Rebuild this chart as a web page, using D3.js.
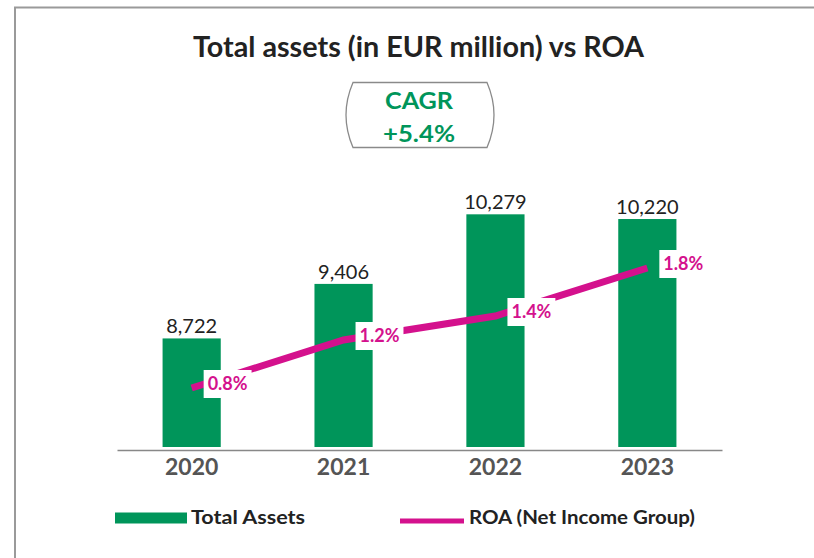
<!DOCTYPE html>
<html>
<head>
<meta charset="utf-8">
<script src="https://cdn.jsdelivr.net/npm/d3@7"></script>
<style>
  html, body { margin: 0; padding: 0; background: #fff; }
  svg { display: block; font-family: Lato, "Open Sans", sans-serif; }
</style>
</head>
<body>
<svg id="chart" width="814" height="558"></svg>
<script>
const years = ["2020", "2021", "2022", "2023"];
const totalAssets = [8722, 9406, 10279, 10220];
const roa = [0.8, 1.2, 1.4, 1.8];
const titleText = "Total assets (in EUR million) vs ROA";
const cagrLines = ["CAGR", "+5.4%"];
const legendLabels = ["Total Assets", "ROA (Net Income Group)"];

const GREEN = "#00955a";
const MAGENTA = "#d4118d";

const svg = d3.select("#chart");

// frame
svg.append("path")
  .attr("d", "M15,558 L15,7.5 L814,7.5")
  .attr("fill", "none").attr("stroke", "#9a9a9a").attr("stroke-width", 2);

// title
svg.append("text")
  .attr("x", 418.5).attr("y", 57)
  .attr("text-anchor", "middle")
  .attr("font-size", 28).attr("font-weight", 700).attr("fill", "#222")
  .attr("textLength", 451).attr("lengthAdjust", "spacingAndGlyphs")
  .text(titleText);

// CAGR box with bulging sides
const bx0 = 353, bx1 = 487, by0 = 82.5, by1 = 147.5, bulge = 7;
svg.append("path")
  .attr("d", `M${bx0},${by0} L${bx1},${by0} Q${bx1 + 2*bulge},${(by0+by1)/2} ${bx1},${by1} L${bx0},${by1} Q${bx0 - 2*bulge},${(by0+by1)/2} ${bx0},${by0} Z`)
  .attr("fill", "#fff").attr("stroke", "#8a8a8a").attr("stroke-width", 1.3);
const cagrW = [68, 72];
svg.selectAll("text.cagr").data(cagrLines).join("text")
  .attr("class", "cagr")
  .attr("x", 419).attr("y", (d, i) => 108.5 + i * 33)
  .attr("text-anchor", "middle")
  .attr("font-size", 22).attr("font-weight", 700).attr("fill", GREEN)
  .attr("textLength", (d, i) => cagrW[i]).attr("lengthAdjust", "spacingAndGlyphs")
  .text(d => d);

// scales
const x = d3.scaleBand().domain(years).range([117, 722]).paddingInner(0.617).paddingOuter(0.3);
const yBar = d3.scaleLinear().domain([7360, 10500]).range([447, 196.7]);
const yRoa = d3.scaleLinear().domain([0.8, 1.8]).range([388, 268]);

// bars
svg.selectAll("rect.bar").data(years).join("rect")
  .attr("class", "bar")
  .attr("x", d => x(d))
  .attr("width", x.bandwidth())
  .attr("y", (d, i) => yBar(totalAssets[i]))
  .attr("height", (d, i) => yBar.range()[0] - yBar(totalAssets[i]))
  .attr("fill", GREEN);

// bar labels
svg.selectAll("text.val").data(years).join("text")
  .attr("class", "val")
  .attr("x", d => x(d) + x.bandwidth() / 2)
  .attr("y", (d, i) => yBar(totalAssets[i]) - 5)
  .attr("text-anchor", "middle")
  .attr("font-size", 20).attr("fill", "#222")
  .text((d, i) => d3.format(",")(totalAssets[i]));

// x axis
const axis = svg.append("g").attr("transform", "translate(0,450)")
  .call(d3.axisBottom(x).tickSize(0).tickSizeOuter(0).tickPadding(9));
axis.select(".domain").attr("stroke", "#888").attr("stroke-width", 1.5);
axis.selectAll(".tick text")
  .attr("font-family", "Lato, 'Open Sans', sans-serif")
  .attr("font-size", 23).attr("font-weight", 700).attr("fill", "#555");

// ROA line
const pts = years.map((d, i) => [x(d) + x.bandwidth() / 2, yRoa(roa[i])]);
svg.append("path")
  .attr("d", d3.line()(pts))
  .attr("fill", "none").attr("stroke", MAGENTA).attr("stroke-width", 7)
  .attr("stroke-linejoin", "miter");

// ROA labels
const lab = svg.selectAll("g.roaLab").data(pts).join("g").attr("class", "roaLab");
lab.each(function(p, i) {
  const g = d3.select(this);
  const t = g.append("text")
    .attr("x", p[0] + 16).attr("y", p[1] - 4)
    .attr("dy", "0.35em")
    .attr("font-size", 18).attr("font-weight", 700).attr("fill", MAGENTA)
    .text(d3.format(".1f")(roa[i]) + "%");
  const w = t.node().getComputedTextLength();
  g.insert("rect", "text")
    .attr("x", p[0] + 12).attr("y", p[1] - 4 - 14)
    .attr("width", w + 8).attr("height", 28)
    .attr("fill", "#fff");
});

// legend
const legW = [114, 226];
svg.append("rect").attr("x", 115).attr("y", 512.5).attr("width", 72).attr("height", 11).attr("fill", GREEN);
svg.append("text").attr("x", 191).attr("y", 524)
  .attr("font-size", 18).attr("font-weight", 700).attr("fill", "#222")
  .attr("textLength", legW[0]).attr("lengthAdjust", "spacingAndGlyphs")
  .text(legendLabels[0]);
svg.append("line").attr("x1", 400).attr("x2", 464).attr("y1", 521).attr("y2", 521)
  .attr("stroke", MAGENTA).attr("stroke-width", 5);
svg.append("text").attr("x", 469).attr("y", 524)
  .attr("font-size", 18).attr("font-weight", 700).attr("fill", "#222")
  .attr("textLength", legW[1]).attr("lengthAdjust", "spacingAndGlyphs")
  .text(legendLabels[1]);
</script>
</body>
</html>
